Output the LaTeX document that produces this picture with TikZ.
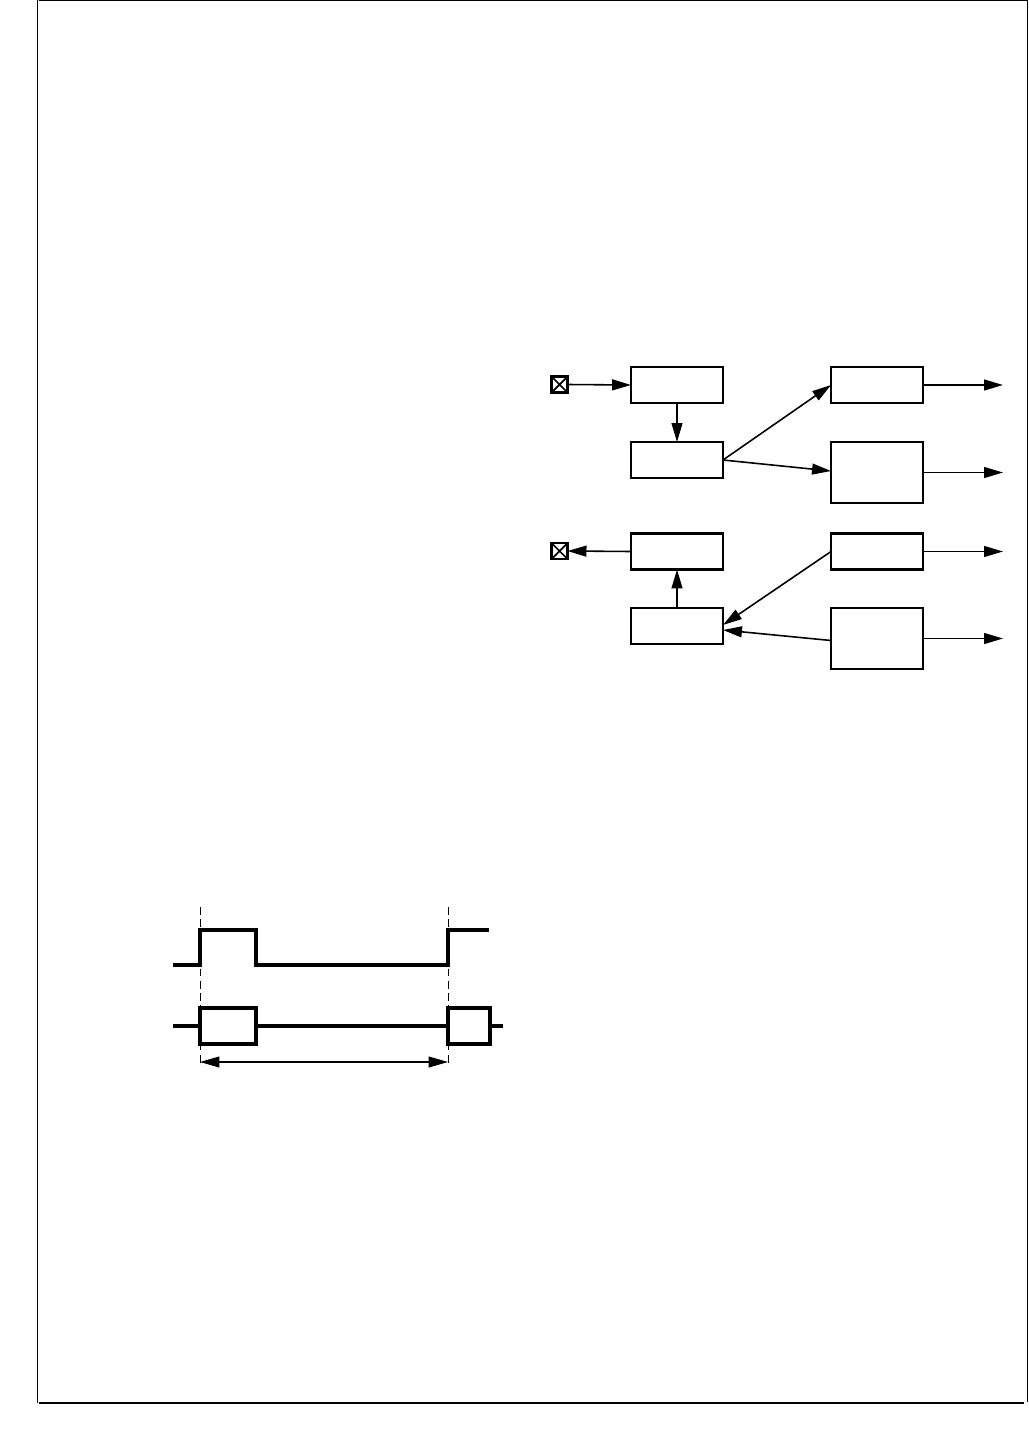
\documentclass[tikz,border=0pt]{standalone}
\usetikzlibrary{arrows.meta}
\begin{document}
\begin{tikzpicture}[x=0.02cm,y=-0.02cm,
  box/.style={draw, line width=1.2pt, minimum width=1.84cm, minimum height=0.72cm, inner sep=0pt, outer sep=0pt},
  tallbox/.style={box, minimum height=1.22cm},
  xbox/.style={draw, line width=1.4pt, minimum size=0.32cm, inner sep=0pt, outer sep=0pt,
    path picture={\draw[line width=1pt] (path picture bounding box.south west) -- (path picture bounding box.north east)
      (path picture bounding box.north west) -- (path picture bounding box.south east);}},
  arr/.style={-{Triangle[length=10.8pt,width=6.2pt]}, line width=0.9pt},
  sig/.style={line width=1.8pt},
  guide/.style={line width=0.5pt, dash pattern=on 4.5pt off 2.5pt},
  frame/.style={line width=0.8pt}]
\useasboundingbox (0,0) rectangle (1028,1436);
% frame
\draw[frame] (37.5,0) -- (37.5,1403);
\draw[frame] (39,0.6) -- (1027,0.6);
\draw[frame] (1027.2,0) -- (1027.2,1402);
\draw[frame] (39,1403) -- (1024,1403);
% block diagram
\node[xbox] (X1) at (559.5,384.5) {};
\node[xbox] (X2) at (559.5,551) {};
\node[box] (A) at (677,385) {};
\node[box] (B) at (677,460) {};
\node[box] (G) at (677,551.5) {};
\node[box] (H) at (677,626) {};
\node[box] (C) at (877,385) {};
\node[tallbox] (D) at (877,472.5) {};
\node[box] (E) at (877,551.5) {};
\node[tallbox] (F) at (877,638.5) {};
\coordinate (o1) at (1003,385);
\coordinate (o2) at (1003,472.5);
\coordinate (o3) at (1003,551.5);
\coordinate (o4) at (1003,638.5);
\draw[arr] (X1.east) -- (A.west);
\draw[arr] (A.south) -- (B.north);
\draw[arr] (B.east) -- (C.west);
\draw[arr] (B.east) -- ([yshift=0.03cm]D.west);
\draw[arr] (C.east) -- (o1);
\draw[arr] (D.east) -- (o2);
\draw[arr] (E.east) -- (o3);
\draw[arr] (F.east) -- (o4);
\draw[arr] (G.west) -- (X2.east);
\draw[arr] (H.north) -- (G.south);
\draw[arr] (E.west) -- ([yshift=0.02cm]H.east);
\draw[arr] ([yshift=-0.04cm]F.west) -- ([yshift=-0.08cm]H.east);
% timing diagram
\draw[guide] (200,907) -- (200,1066);
\draw[guide] (448,907) -- (448,1066);
\draw[sig] (173,965) -| (200,930) -| (256,965) -| (448,930) -- (489,930);
\draw[sig] (173,1026) -- (200,1026);
\draw[sig] (200,1008) rectangle (256,1044);
\draw[sig] (256,1026) -- (448,1026);
\draw[sig] (448,1008) rectangle (490,1044);
\draw[sig] (490,1026) -- (503,1026);
\coordinate (p1) at (200,1062);
\coordinate (p2) at (448,1062);
\draw[{Triangle[length=11pt,width=6.2pt]}-{Triangle[length=11pt,width=6.2pt]}, line width=0.6pt] (p1) -- (p2);
\end{tikzpicture}
\end{document}
